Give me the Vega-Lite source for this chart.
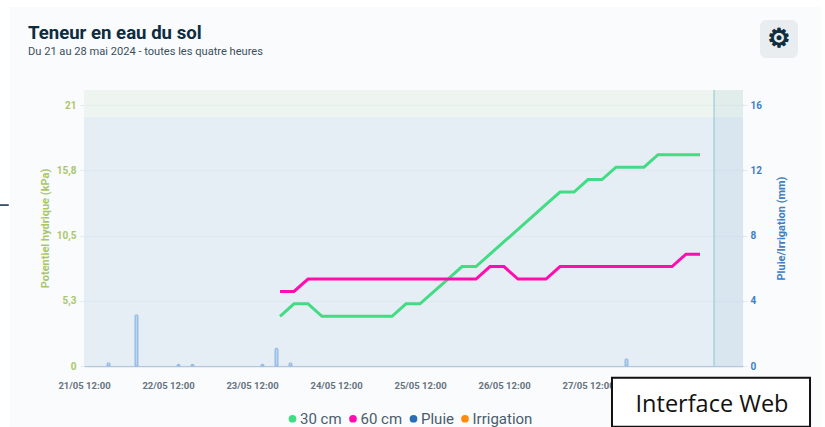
{
"$schema":"https://vega.github.io/schema/vega-lite/v6.json",
"width":659,"height":276,
"autosize":"none",
"padding":{"left":84,"top":90,"right":82,"bottom":61},
"background":"#f9fbfd",
"title":{"text":"Teneur en eau du sol","subtitle":"Du 21 au 28 mai 2024 - toutes les quatre heures","anchor":"start","frame":"group","dx":-56,"offset":-57,"font":"Roboto","fontSize":18.6,"fontWeight":"bold","color":"#0d2c3d","subtitleFont":"Roboto","subtitleFontSize":11.1,"subtitleColor":"#3c4f5c","subtitlePadding":3},
"config":{"view":{"stroke":null},"font":"Roboto"},
"datasets":{
"soil":[
{"t":"2024-05-23T20:00:00Z","s":"30 cm","v":4},{"t":"2024-05-24T00:00:00Z","s":"30 cm","v":5},{"t":"2024-05-24T04:00:00Z","s":"30 cm","v":5},{"t":"2024-05-24T08:00:00Z","s":"30 cm","v":4},{"t":"2024-05-24T12:00:00Z","s":"30 cm","v":4},{"t":"2024-05-24T16:00:00Z","s":"30 cm","v":4},{"t":"2024-05-24T20:00:00Z","s":"30 cm","v":4},{"t":"2024-05-25T00:00:00Z","s":"30 cm","v":4},{"t":"2024-05-25T04:00:00Z","s":"30 cm","v":4},{"t":"2024-05-25T08:00:00Z","s":"30 cm","v":5},{"t":"2024-05-25T12:00:00Z","s":"30 cm","v":5},{"t":"2024-05-25T16:00:00Z","s":"30 cm","v":6},{"t":"2024-05-25T20:00:00Z","s":"30 cm","v":7},{"t":"2024-05-26T00:00:00Z","s":"30 cm","v":8},{"t":"2024-05-26T04:00:00Z","s":"30 cm","v":8},{"t":"2024-05-26T08:00:00Z","s":"30 cm","v":9},{"t":"2024-05-26T12:00:00Z","s":"30 cm","v":10},{"t":"2024-05-26T16:00:00Z","s":"30 cm","v":11},{"t":"2024-05-26T20:00:00Z","s":"30 cm","v":12},{"t":"2024-05-27T00:00:00Z","s":"30 cm","v":13},{"t":"2024-05-27T04:00:00Z","s":"30 cm","v":14},{"t":"2024-05-27T08:00:00Z","s":"30 cm","v":14},{"t":"2024-05-27T12:00:00Z","s":"30 cm","v":15},{"t":"2024-05-27T16:00:00Z","s":"30 cm","v":15},{"t":"2024-05-27T20:00:00Z","s":"30 cm","v":16},{"t":"2024-05-28T00:00:00Z","s":"30 cm","v":16},{"t":"2024-05-28T04:00:00Z","s":"30 cm","v":16},{"t":"2024-05-28T08:00:00Z","s":"30 cm","v":17},{"t":"2024-05-28T12:00:00Z","s":"30 cm","v":17},{"t":"2024-05-28T16:00:00Z","s":"30 cm","v":17},{"t":"2024-05-28T20:00:00Z","s":"30 cm","v":17},
{"t":"2024-05-23T20:00:00Z","s":"60 cm","v":6},{"t":"2024-05-24T00:00:00Z","s":"60 cm","v":6},{"t":"2024-05-24T04:00:00Z","s":"60 cm","v":7},{"t":"2024-05-24T08:00:00Z","s":"60 cm","v":7},{"t":"2024-05-24T12:00:00Z","s":"60 cm","v":7},{"t":"2024-05-24T16:00:00Z","s":"60 cm","v":7},{"t":"2024-05-24T20:00:00Z","s":"60 cm","v":7},{"t":"2024-05-25T00:00:00Z","s":"60 cm","v":7},{"t":"2024-05-25T04:00:00Z","s":"60 cm","v":7},{"t":"2024-05-25T08:00:00Z","s":"60 cm","v":7},{"t":"2024-05-25T12:00:00Z","s":"60 cm","v":7},{"t":"2024-05-25T16:00:00Z","s":"60 cm","v":7},{"t":"2024-05-25T20:00:00Z","s":"60 cm","v":7},{"t":"2024-05-26T00:00:00Z","s":"60 cm","v":7},{"t":"2024-05-26T04:00:00Z","s":"60 cm","v":7},{"t":"2024-05-26T08:00:00Z","s":"60 cm","v":8},{"t":"2024-05-26T12:00:00Z","s":"60 cm","v":8},{"t":"2024-05-26T16:00:00Z","s":"60 cm","v":7},{"t":"2024-05-26T20:00:00Z","s":"60 cm","v":7},{"t":"2024-05-27T00:00:00Z","s":"60 cm","v":7},{"t":"2024-05-27T04:00:00Z","s":"60 cm","v":8},{"t":"2024-05-27T08:00:00Z","s":"60 cm","v":8},{"t":"2024-05-27T12:00:00Z","s":"60 cm","v":8},{"t":"2024-05-27T16:00:00Z","s":"60 cm","v":8},{"t":"2024-05-27T20:00:00Z","s":"60 cm","v":8},{"t":"2024-05-28T00:00:00Z","s":"60 cm","v":8},{"t":"2024-05-28T04:00:00Z","s":"60 cm","v":8},{"t":"2024-05-28T08:00:00Z","s":"60 cm","v":8},{"t":"2024-05-28T12:00:00Z","s":"60 cm","v":8},{"t":"2024-05-28T16:00:00Z","s":"60 cm","v":9},{"t":"2024-05-28T20:00:00Z","s":"60 cm","v":9}
],
"rain":[
{"t":"2024-05-21T19:00:00Z","mm":0.2},{"t":"2024-05-22T03:00:00Z","mm":3.15},{"t":"2024-05-22T15:00:00Z","mm":0.1},{"t":"2024-05-22T19:00:00Z","mm":0.1},{"t":"2024-05-23T15:00:00Z","mm":0.1},{"t":"2024-05-23T19:00:00Z","mm":1.1},{"t":"2024-05-23T23:00:00Z","mm":0.2},{"t":"2024-05-27T23:00:00Z","mm":0.45}
],
"blue":[{"t":"2024-05-21T12:00:00Z","t1":"2024-05-29T08:17:00Z","v":0,"v2":20.05}],
"green":[{"t":"2024-05-21T12:00:00Z","t1":"2024-05-29T08:17:00Z","v":20.05,"v2":22.21}],
"future":[{"t":"2024-05-29T00:00:00Z","t1":"2024-05-29T08:17:00Z","v":0,"v2":22.21}],
"now":[{"t":"2024-05-29T00:00:00Z","v":0,"v2":22.21}],
"page":[
{"t":"2024-05-20T12:00:00Z","t1":"2024-05-20T14:51:00Z","v":-4.88,"v2":29.44},
{"t":"2024-05-20T12:00:00Z","t1":"2024-05-30T07:43:00Z","v":28.88,"v2":29.44},
{"t":"2024-05-30T06:34:00Z","t1":"2024-05-30T07:43:00Z","v":-4.88,"v2":29.44}
],
"dash":[{"t":"2024-05-20T12:00:00Z","t1":"2024-05-20T14:30:00Z","v":12.95}],
"gearBox":[{"t":"2024-05-29T13:09:00Z","t1":"2024-05-30T00:00:00Z","v":24.78,"v2":27.84}],
"gear":[{"t":"2024-05-29T18:34:00Z","v":26.31,"label":"⚙"}],
"box":[{"t":"2024-05-27T18:51:00Z","t1":"2024-05-30T03:26:00Z","v":-4.88,"v2":-0.94}],
"boxText":[{"t":"2024-05-28T23:26:00Z","v":-3.11,"label":"Interface Web"}]
},
"encoding":{"x":{"field":"t","type":"temporal","scale":{"type":"utc","padding":0,"domain":["2024-05-21T12:00:00Z","2024-05-29T08:17:00Z"]},
   "axis":{"values":["2024-05-21T12:00:00Z","2024-05-22T12:00:00Z","2024-05-23T12:00:00Z","2024-05-24T12:00:00Z","2024-05-25T12:00:00Z","2024-05-26T12:00:00Z","2024-05-27T12:00:00Z"],"labelExpr":"utcFormat(datum.value,'%d/%m %H:%M')","title":null,"domain":false,"ticks":false,"grid":false,"labelPadding":14,"labelFont":"Roboto","labelFontSize":9.5,"labelFontWeight":"bold","labelColor":"#66737d","labelAngle":0,"labelOverlap":false,"labelBound":false,"labelFlush":false}}},
"resolve":{"scale":{"y":"independent"},"axis":{"y":"independent"}},
"layer":[
{"encoding":{"y":{"field":"v","type":"quantitative","scale":{"domain":[0,22.21],"nice":false,"zero":false},
   "axis":{"values":[0,5.25,10.5,15.75,21],"labelExpr":"datum.value==5.25?'5,3':datum.value==10.5?'10,5':datum.value==15.75?'15,8':datum.label","title":"Potentiel hydrique (kPa)","titleFont":"Roboto","titleFontSize":11,"titleFontWeight":"bold","titleColor":"#a9c76a","titlePadding":6,"labelFont":"Roboto","labelFontSize":10,"labelFontWeight":"bold","labelColor":"#a9c76a","domain":false,"tickSize":4,"tickColor":"#e3eaf1","labelPadding":4,"grid":true,"gridColor":"#b4c6dc","gridWidth":1.5}}},
 "layer":[
{"data":{"name":"page"},"mark":{"type":"rect","fill":"#ffffff","clip":false},"encoding":{"x2":{"field":"t1"},"y2":{"field":"v2"}}},
{"data":{"name":"blue"},"mark":{"type":"rect","fill":"#e3ecf4","opacity":0.9},"encoding":{"x2":{"field":"t1"},"y2":{"field":"v2"}}},
{"data":{"name":"green"},"mark":{"type":"rect","fill":"#ecf4ef","opacity":0.9},"encoding":{"x2":{"field":"t1"},"y2":{"field":"v2"}}},
{"data":{"name":"future"},"mark":{"type":"rect","fill":"#6fa8b8","opacity":0.1},"encoding":{"x2":{"field":"t1"},"y2":{"field":"v2"}}},
{"data":{"name":"now"},"mark":{"type":"rule","stroke":"#8cc6d4","strokeWidth":1},"encoding":{"y2":{"field":"v2"}}},
{"data":{"name":"soil"},"mark":{"type":"line","strokeWidth":3,"strokeJoin":"miter"},
 "encoding":{"stroke":{"field":"s","type":"nominal","scale":{"domain":["30 cm","60 cm"],"range":["#42dc85","#ff0db0"]},"legend":null}}},
{"data":{"name":"soil"},"mark":{"type":"point","filled":true,"size":0,"opacity":1},
 "encoding":{"fill":{"field":"s","type":"nominal","scale":{"domain":["30 cm","60 cm","Pluie","Irrigation"],"range":["#42dc85","#ff0db0","#2a6fb5","#ff8c0f"]},
   "legend":{"orient":"none","legendX":201,"legendY":321,"direction":"horizontal","title":null,"symbolType":"circle","symbolSize":60,"symbolStrokeWidth":0,"symbolOpacity":1,"labelFont":"Roboto","labelFontSize":15,"labelColor":"#4a5d6b","labelOffset":0,"columnPadding":3.5}}}},
{"data":{"name":"dash"},"mark":{"type":"rule","stroke":"#0d2a4d","strokeWidth":1.5,"clip":false},"encoding":{"x2":{"field":"t1"}}},
{"data":{"name":"gearBox"},"mark":{"type":"rect","fill":"#e9edef","cornerRadius":6,"clip":false},"encoding":{"x2":{"field":"t1"},"y2":{"field":"v2"}}},
{"data":{"name":"gear"},"mark":{"type":"text","font":"DejaVu Sans","fontSize":26,"fontWeight":"bold","fill":"#0d2c3d","stroke":"#0d2c3d","strokeWidth":1,"align":"center","baseline":"middle","clip":false},"encoding":{"text":{"field":"label"}}},
{"data":{"name":"box"},"mark":{"type":"rect","fill":"#ffffff","stroke":"#111111","strokeWidth":2,"clip":false},"encoding":{"x2":{"field":"t1"},"y2":{"field":"v2"}}},
{"data":{"name":"boxText"},"mark":{"type":"text","font":"Open Sans","fontSize":23.5,"fill":"#111111","align":"center","baseline":"middle","clip":false},"encoding":{"text":{"field":"label"}}}
 ]},
{"data":{"name":"rain"},"mark":{"type":"bar","size":3,"fill":"#bcd5ef","stroke":"#93b9e3","strokeWidth":1,"cornerRadiusEnd":1.5},
 "encoding":{"y":{"field":"mm","type":"quantitative","scale":{"domain":[0,16.92],"nice":false,"zero":false},
   "axis":{"orient":"right","values":[0,4,8,12,16],"title":"Pluie/Irrigation (mm)","titleFont":"Roboto","titleFontSize":11,"titleFontWeight":"bold","titleColor":"#3f80c4","titlePadding":25,"titleAngle":270,"labelFont":"Roboto","labelFontSize":10,"labelFontWeight":"bold","labelColor":"#3f80c4","domain":false,"tickSize":4,"tickColor":"#e3eaf1","labelPadding":3,"grid":false}}}}
]
}
